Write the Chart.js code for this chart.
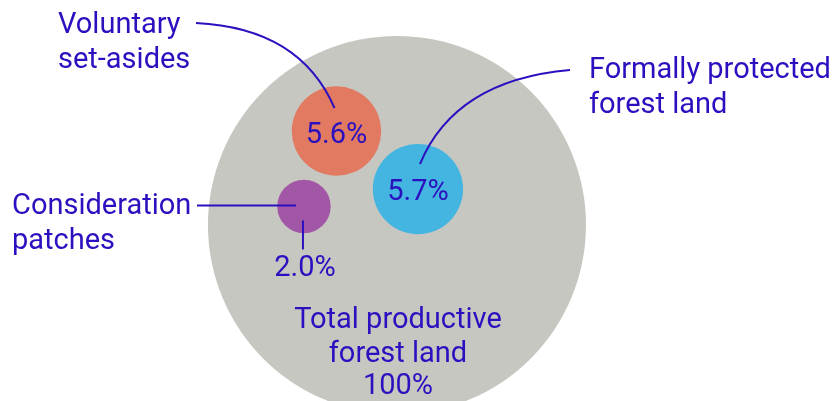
<!DOCTYPE html>
<html>
<head>
<meta charset="utf-8">
<script src="https://cdn.jsdelivr.net/npm/chart.js@4/dist/chart.umd.min.js"></script>
<style>
  body{margin:0;background:#fff;}
  #wrap{width:834px;height:401px;}
</style>
</head>
<body>
<div id="wrap"><canvas id="myChart" width="834" height="401"></canvas></div>
<script>
// shares of total productive forest land (%)
const categories=['Total productive forest land','Voluntary set-asides','Formally protected forest land','Consideration patches'];
const shares=[100,5.6,5.7,2.0];
// bubble centres, in units of the big circle's radius
const xPos=[0,-0.32,0.111,-0.492];
const yPos=[0,0.497,0.19,0.098];
const valueLabels=['100%','5.6%','5.7%','2.0%'];

const colors=['#C7C7C2','#E27A62','#43B5E0','#A157A5'];
const textColor='#2A10BF';
const font='29px Roboto';

// radius from area share, converted through the x scale
const radiusFor=(chart,share)=>{
    const s=chart.scales.x;
    return s.getPixelForValue(Math.sqrt(share/100))-s.getPixelForValue(0);
};

const labelsPlugin={
    id:'labels',
    afterDatasetsDraw(chart){
        const c=chart.ctx;
        const sx=chart.scales.x, sy=chart.scales.y;
        const px=i=>sx.getPixelForValue(xPos[i]);
        const py=i=>sy.getPixelForValue(yPos[i]);
        c.save();
        c.fillStyle=textColor;
        c.strokeStyle=textColor;
        c.lineWidth=2;
        c.font=font;
        c.textBaseline='alphabetic';

        // values inside bubbles
        c.textAlign='center';
        c.fillText(valueLabels[1],px(1),py(1)+12);
        c.fillText(valueLabels[2],px(2),py(2)+11);
        c.fillText(valueLabels[3],px(3)+1,py(3)+70);

        // total label
        c.fillText('Total productive',px(0)+1,328);
        c.fillText('forest land',px(0)+1,362);
        c.fillText(valueLabels[0],px(0)+1,394);

        // category labels
        c.textAlign='left';
        c.fillText('Voluntary',58,33);
        c.fillText('set-asides',58,68);
        c.fillText('Formally protected',589,78);
        c.fillText('forest land',589,113);
        c.fillText('Consideration',12,214);
        c.fillText('patches',12,249);

        // leader lines
        c.beginPath();
        c.moveTo(196,23);
        c.quadraticCurveTo(300,28,px(1)-2,py(1)-23);
        c.stroke();

        c.beginPath();
        c.moveTo(570,70);
        c.quadraticCurveTo(455,80,px(2)+2,py(2)-25);
        c.stroke();

        c.beginPath();
        c.moveTo(197,py(3)-1);
        c.lineTo(px(3)-8,py(3)-1);
        c.stroke();

        c.beginPath();
        c.moveTo(px(3)-1,py(3)+14);
        c.lineTo(px(3)-1,py(3)+43);
        c.stroke();
        c.restore();
    }
};

const ctx=document.getElementById('myChart').getContext('2d');
const myChart=new Chart(ctx,{
    type:'bubble',
    data:{
        labels:categories,
        datasets:[{
            data:shares.map((v,i)=>({x:xPos[i],y:yPos[i],r:0})),
            backgroundColor:colors,
            borderWidth:0,
            clip:false,
        }],
    },
    options:{
        responsive:false,
        animation:false,
        events:[],
        layout:{padding:0,autoPadding:false},
        plugins:{legend:{display:false},tooltip:{enabled:false}},
        scales:{
            x:{type:'linear',display:false,min:-2.1,max:2.312},
            y:{type:'linear',display:false,min:-0.931,max:1.19},
        },
    },
    plugins:[labelsPlugin],
});

// scales are laid out now: size the bubbles by area share
myChart.data.datasets[0].data=shares.map((v,i)=>({x:xPos[i],y:yPos[i],r:radiusFor(myChart,v)}));
myChart.update();
</script>
</body>
</html>
